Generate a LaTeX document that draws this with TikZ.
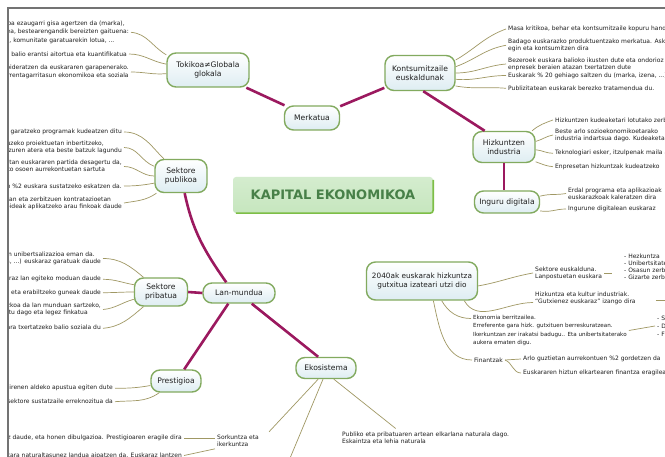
\documentclass[tikz,border=0pt]{standalone}
\usepackage{fontspec}
\setmainfont{DejaVu Sans}
\definecolor{mag}{RGB}{155,25,95}
\definecolor{nborder}{RGB}{130,170,95}
\definecolor{nfill}{RGB}{222,237,242}
\definecolor{leafc}{RGB}{160,152,100}
\definecolor{txt}{RGB}{30,30,30}
\definecolor{framec}{RGB}{115,115,115}
\definecolor{kapfill}{RGB}{198,230,190}
\definecolor{kaptext}{RGB}{72,128,72}
\definecolor{kapedge}{RGB}{125,190,70}
\begin{document}
\begin{tikzpicture}[x=1pt,y=-1pt,
 topic/.style={draw=nborder, line width=1.4pt, rounded corners=9pt, top color=white, bottom color=nfill, text=txt, font=\fontsize{7.6}{8.7}\selectfont, align=center, inner xsep=4pt, inner ysep=2pt},
 leaf/.style={text=txt, font=\fontsize{6}{7}\selectfont, align=left, inner xsep=2pt, inner ysep=0.5pt},
 mline/.style={draw=mag, line width=2.6pt},
 lline/.style={draw=leafc, line width=0.7pt},
 kapbox/.style={top color=kapfill!75!white, bottom color=kapfill, text=kaptext, font=\fontsize{13}{15}\selectfont\bfseries, rounded corners=3pt, minimum width=200pt, minimum height=36pt}
]
\useasboundingbox (0,0) rectangle (665,457);
\fill[white] (0,0) rectangle (665,457);
\begin{scope}
\clip (9.3,9.3) rectangle (665,457);

% ---- topic nodes
\node[topic, minimum width=82pt, minimum height=34pt] (tok) at (208,70) {Tokikoa≠Globala\\glokala};
\node[topic, minimum width=55pt, minimum height=24pt] (merk) at (312,118) {Merkatua};
\node[topic, minimum width=70pt, minimum height=35pt] (kont) at (420,73) {Kontsumitzaile\\euskaldunak};
\node[topic, minimum width=62pt, minimum height=31pt] (hizk) at (504,147) {Hizkuntzen\\industria};
\node[topic, minimum width=65pt, minimum height=22pt] (ing) at (507,202) {Inguru digitala};
\node[kapbox] (kap) at (333,195) {KAPITAL EKONOMIKOA};
\draw[kapedge, line width=1.6pt, rounded corners=3pt] ([xshift=3pt]kap.south west) -- (kap.south east) -- ([yshift=-3pt]kap.north east);
\node[topic, minimum width=52pt, minimum height=33pt] (pub) at (181,176) {Sektore\\publikoa};
\node[topic, minimum width=53pt, minimum height=28pt] (prib) at (161,292) {Sektore\\pribatua};
\node[topic, minimum width=72pt, minimum height=20pt] (lan) at (239,293) {Lan-mundua};
\node[topic, minimum width=50pt, minimum height=22pt] (pres) at (176,381) {Prestigioa};
\node[topic, minimum width=60pt, minimum height=21pt] (eko) at (326,368) {Ekosistema};
\node[topic, font=\fontsize{7.3}{9}\selectfont, minimum width=111pt, minimum height=38pt] (big) at (422,281) {2040ak euskarak hizkuntza\\gutxitua izateari utzi dio};

% ---- main connectors
\draw[mline] (tok) -- (merk);
\draw[mline] (merk) -- (kont);
\draw[mline] (kont.-80) -- (hizk.140);
\draw[mline] (hizk.south) -- (hizk.south |- ing.north);
\draw[mline] (pub.-78) to[out=-78,in=125] (lan.140);
\draw[mline] (prib.east) -- (lan.west);
\draw[mline] (lan.225) -- (pres.55);
\draw[mline] (lan.-40) -- (eko.125);

% ---- Tokikoa leaves
\node[leaf, anchor=east, font=\fontsize{6}{8.3}\selectfont] (t1) at (131,32.3) {Bertakoa ezaugarri gisa agertzen da (marka),\\kalitatea, bestearengandik bereizten gaituena:\\jatorria, komunitate garatuarekin lotua, ...};
\node[leaf, anchor=east] (t2) at (129,54) {Euskararen balio erantsi aitortua eta kuantifikatua};
\node[leaf, anchor=east, font=\fontsize{6}{8}\selectfont] (t3) at (131,72) {Inbertsioa bideratzen da euskararen garapenerako.\\Euskarak errentagarritasun ekonomikoa eta soziala};
\draw[lline] (t1.east) to[out=-5,in=150] (tok.160);
\draw[lline] (t2.east) to[out=0,in=170] (tok.172);
\draw[lline] (t3.east) to[out=0,in=185] (tok.185);

% ---- Kontsumitzaile leaves
\node[leaf, anchor=west] (k1) at (506,29) {Masa kritikoa, behar eta kontsumitzaile kopuru handia};
\node[leaf, anchor=west] (k2) at (506,45.3) {Badago euskarazko produktuentzako merkatua. Asko\\egin eta kontsumitzen dira};
\node[leaf, anchor=west] (k3) at (506,64) {Bezeroek euskara balioko ikusten dute eta ondorioz\\enpresek beraien atazan txertatzen dute};
\node[leaf, anchor=west] (k4) at (506,75.5) {Euskarak \% 20 gehiago saltzen du (marka, izena, ...)};
\node[leaf, anchor=west] (k5) at (506,88.3) {Publizitatean euskarak berezko tratamendua du.};
\draw[lline] (kont.20) to[out=30,in=200] (k1.west);
\draw[lline] (kont.10) to[out=20,in=190] (k2.west);
\draw[lline] (kont.0) to[out=0,in=185] (k3.west);
\draw[lline] (kont.-10) to[out=-5,in=180] (k4.west);
\draw[lline] (kont.-20) to[out=-10,in=175] (k5.west);

% ---- Hizkuntzen industria leaves
\node[leaf, anchor=west] (h1) at (553,120) {Hizkuntzen kudeaketari lotutako zerbitzuak};
\node[leaf, anchor=west] (h2) at (553,135) {Beste arlo sozioekonomikoetarako\\industria indartsua dago. Kudeaketa};
\node[leaf, anchor=west] (h3) at (553,153.3) {Teknologiari esker, itzulpenak maila altuan};
\node[leaf, anchor=west] (h4) at (553,166.7) {Enpresetan hizkuntzak kudeatzeko};
\draw[lline] (hizk.30) to[out=40,in=200] (h1.west);
\draw[lline] (hizk.10) to[out=15,in=190] (h2.west);
\draw[lline] (hizk.-5) to[out=-5,in=180] (h3.west);
\draw[lline] (hizk.-25) to[out=-20,in=175] (h4.west);

% ---- Inguru digitala leaves
\node[leaf, anchor=west, font=\fontsize{6}{6.6}\selectfont] (i1) at (566,193.5) {Erdal programa eta aplikazioak\\euskarazkoak kaleratzen dira};
\node[leaf, anchor=west] (i2) at (566,209) {Ingurune digitalean euskaraz};
\draw[lline] (ing.10) to[out=15,in=190] (i1.west);
\draw[lline] (ing.-15) to[out=-10,in=180] (i2.west);

% ---- Sektore publikoa leaves
\node[leaf, anchor=east] (p1) at (124,132) {Eusko Jaurlaritzak euskara garatzeko programak kudeatzen ditu};
\node[leaf, anchor=east] (p2) at (124,147.5) {Epe ertain/luzeko proiektuetan inbertitzeko,\\proiektu batzuren atera eta beste batzuk lagundu};
\node[leaf, anchor=east] (p3) at (124,166.5) {Aurrekontu orokorretan euskararen partida desagertu da,\\administrazio publiko osoen aurrekontuetan sartuta};
\node[leaf, anchor=east] (p4) at (124,186) {Aurrekontuen \%2 euskara sustatzeko eskatzen da.};
\node[leaf, anchor=east] (p5) at (124,203) {Diru-laguntzetan eta zerbitzuen kontratazioetan\\hizkuntza-irizpideak aplikatzeko arau finkoak daude};
\draw[lline] (p1.east) to[out=0,in=135] (pub.135);
\draw[lline] (p2.east) to[out=0,in=160] (pub.160);
\draw[lline] (p3.east) to[out=0,in=180] (pub.180);
\draw[lline] (p4.east) to[out=0,in=190] (pub.195);
\draw[lline] (p5.east) to[out=10,in=215] (pub.215);

% ---- Sektore pribatua leaves
\node[leaf, anchor=east] (r1) at (103,258.5) {Enpresetan euskararen unibertsalizazioa eman da.\\Produktuak (softwarea, ...) euskaraz garatuak daude};
\node[leaf, anchor=east] (r2) at (103,279.3) {Langile guztiak euskaraz lan egiteko moduan daude};
\node[leaf, anchor=east] (r3) at (103,292.7) {Euskara ikasi eta erabiltzeko guneak daude};
\node[leaf, anchor=east] (r4) at (103,309.5) {Euskara baldintza nahitaezkoa da lan munduan sartzeko,\\hizkuntza-eskakizuna arautu dago eta legez finkatua};
\node[leaf, anchor=east] (r5) at (103,328.3) {Enpresak euskara txertatzeko balio soziala du};
\draw[lline] (r1.east) to[out=0,in=140] (prib.140);
\draw[lline] (r2.east) to[out=0,in=170] (prib.165);
\draw[lline] (r3.east) to[out=0,in=180] (prib.180);
\draw[lline] (r4.east) to[out=5,in=195] (prib.195);
\draw[lline] (r5.east) to[out=5,in=220] (prib.220);

% ---- Prestigioa leaves
\node[leaf, anchor=east] (s1) at (115,388.3) {Enpresek euskaldun direnen aldeko apustua egiten dute};
\node[leaf, anchor=east] (s2) at (115,401.7) {Euskararen sektore sustatzaile erreknozitua da};
\draw[lline] (s1.east) to[out=0,in=190] (pres.190);
\draw[lline] (s2.east) to[out=5,in=215] (pres.215);

% ---- Ekosistema leaves
\node[leaf, anchor=west] (sork) at (215,440.3) {Sorkuntza eta\\ikerkuntza};
\node[leaf, anchor=east] (e1) at (184,438.3) {Ikerketa-zentroak euskaraz daude, eta honen dibulgazioa. Prestigioaren eragile dira};
\node[leaf, anchor=east] (e2) at (184,455.5) {Unibertsitatean euskara naturaltasunez landua aipatzen da. Euskaraz lantzen};
\node[leaf, anchor=west] (pubt) at (340,438) {Publiko eta pribatuaren artean elkarlana naturala dago.\\Eskaintza eta lehia naturala};
\coordinate (ekoend) at (288,463);
\draw[lline] (eko.235) -- ([xshift=8pt,yshift=2pt]sork.north east);
\draw[lline] (e1.east) -- (e1.east -| sork.west);
\draw[lline] (e2.east) -- ([yshift=-2pt]sork.south west);
\draw[lline] (eko.255) -- (ekoend);
\draw[lline] (eko.-55) -- ([xshift=-30pt,yshift=3pt]pubt.north);

% ---- 2040ak leaves
\node[leaf, anchor=west] (sek) at (533,273) {Sektore euskalduna.\\Lanpostuetan euskara};
\node[leaf, anchor=west] (lst1) at (622,266.5) {- Hezkuntza\\- Unibertsitatea\\- Osasun zerbitzua\\- Gizarte zerbitzuak};
\draw[lline] (big.-5) to[out=10,in=190] (sek.west);
\draw[lline] (sek.east) -- ([xshift=-10pt]lst1.west |- sek.east);

\node[leaf, anchor=west] (hiz) at (533,298.5) {Hizkuntza eta kultur industriak.\\“Gutxienez euskaraz” izango dira};
\coordinate (hizend) at (670,300);
\draw[lline] (big.-25) to[out=-60,in=180] ([yshift=-4pt]hiz.west);
\draw[lline] ([xshift=18pt]hiz.east |- hizend) -- (hizend);

\node[leaf, anchor=west, font=\fontsize{5.6}{8.3}\selectfont] (eko2) at (471,330.5) {Ekonomia berritzailea.\\Erreferente gara hizk. gutxituen berreskuratzean.\\Ikerkuntzan zer irakatsi badugu.. Eta unibertsitaterako\\aukera ematen digu.};
\node[leaf, anchor=west, font=\fontsize{6}{8}\selectfont] (lst2) at (655,326) {- S\\- D\\- F};
\draw[lline] (big.-45) to[out=-60,in=180] ([yshift=12pt]eko2.west);
\draw[lline] (eko2.east) -- (lst2.west);

\node[leaf, anchor=west] (fin) at (472,360) {Finantzak};
\node[leaf, anchor=west] (f1) at (521,359) {Arlo guztietan aurrekontuen \%2 gordetzen da};
\node[leaf, anchor=west] (f2) at (521,373) {Euskararen hiztun elkartearen finantza eragilea};
\draw[lline] (big.-60) to[out=-78,in=180] (fin.west);
\draw[lline] (fin.east) -- (f1.west);
\draw[lline] (fin.east) to[out=-20,in=180] (f2.west);
\end{scope}
\draw[framec, line width=1.8pt] (8.3,457) -- (8.3,8.3) -- (665,8.3);
\end{tikzpicture}
\end{document}
